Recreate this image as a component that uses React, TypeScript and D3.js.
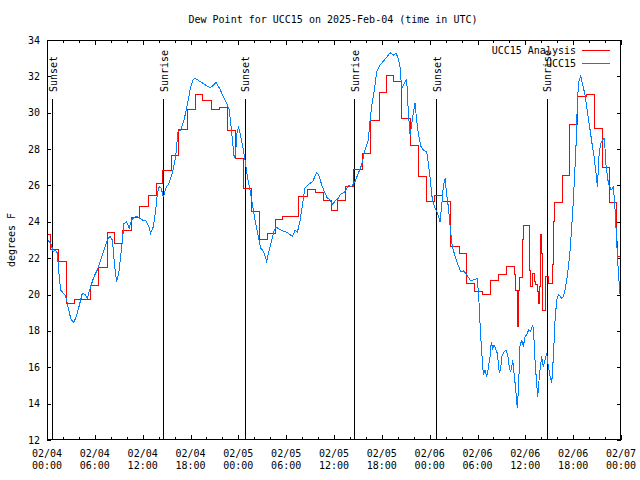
import React from 'react';
import * as d3 from 'd3';

// hours after 2025-02-04 00:00 UTC, dew point in degrees F
const analysis: [number, number][] = [
  [-0.45, 23.3], [0.5, 22.5], [1.45, 21.8], [2.5, 19.5], [3.5, 19.75], [5.45, 20.5],
  [6.5, 21.5], [7.6, 23.4], [8.5, 22.8], [9.5, 23.5], [10.6, 24.25], [11.6, 24.85],
  [12.7, 25.45], [13.7, 26.1], [14.5, 26.85], [15.6, 27.65], [16.45, 29.1], [17.6, 30.2],
  [18.6, 31.0], [19.55, 30.65], [20.6, 30.2], [21.7, 30.3], [22.6, 29.05], [23.6, 27.5],
  [24.6, 25.85], [25.7, 24.57], [26.7, 23.05], [27.65, 23.37], [28.65, 24.14], [29.6, 24.3],
  [31.55, 25.42], [32.65, 25.8], [33.65, 25.63], [34.7, 25.2], [35.7, 24.6], [36.5, 25.2],
  [37.5, 25.93], [38.5, 26.9], [39.6, 27.77], [40.6, 29.6], [41.65, 31.12], [42.6, 32.07],
  [43.5, 31.7], [44.5, 29.7], [45.6, 28.2], [46.6, 26.5], [47.6, 25.1], [48.6, 25.47],
  [49.55, 25.1], [50.6, 22.65], [51.7, 22.27], [52.6, 20.6], [53.6, 20.17], [54.6, 20.0],
  [55.65, 20.8], [56.65, 21.13], [57.6, 21.55], [58.6, 21.08], [58.8, 20.25], [59.0, 18.23],
  [59.1, 20.25], [59.3, 20.95], [59.7, 23.04], [59.75, 23.79], [60.55, 21.35], [60.7, 20.43],
  [60.9, 21.17], [61.1, 20.71], [61.3, 20.53], [61.5, 20.16], [61.6, 19.52], [61.75, 20.43],
  [61.95, 23.28], [62.05, 22.27], [62.1, 19.15], [62.55, 20.98], [62.9, 20.62], [63.4, 21.63],
  [63.55, 24.0], [63.7, 25.07], [64.7, 26.54], [65.6, 29.36], [66.55, 30.9], [67.7, 31.0],
  [68.7, 29.15], [69.7, 27.0], [70.6, 25.07], [71.45, 22.9], [71.55, 22.08], [72.0, 22.08],
];

const station: [number, number][] = [
  [0, 23.05], [0.46, 22.82], [0.79, 22.36], [1.09, 22.45], [1.3, 22.27], [1.5, 21.17],
  [1.71, 20.25], [2.05, 20.07], [2.34, 19.92], [2.63, 19.33], [2.97, 18.69], [3.3, 18.45],
  [3.6, 18.69], [4.01, 19.33], [4.43, 20.07], [4.85, 19.97], [5.06, 19.8], [5.48, 20.44],
  [5.9, 20.99], [6.31, 21.35], [6.73, 21.9], [7.15, 22.45], [7.57, 23.0], [7.9, 23.22],
  [8.2, 23.0], [8.49, 21.54], [8.74, 20.71], [9.03, 21.26], [9.33, 22.45], [9.66, 23.91],
  [10.0, 24.0], [10.3, 23.64], [10.6, 24.1], [10.91, 24.25], [11.33, 24.29], [11.96, 24.1],
  [12.38, 24.1], [12.8, 23.73], [13.0, 23.37], [13.34, 23.73], [13.63, 24.65], [13.84, 25.56],
  [14.05, 25.93], [14.34, 25.84], [14.59, 25.35], [14.88, 25.84], [15.3, 26.11], [15.72, 26.66],
  [16.14, 27.58], [16.43, 28.95], [16.77, 29.04], [17.19, 29.6], [17.6, 30.42], [18.02, 31.43],
  [18.3, 31.8], [18.57, 31.89], [19.19, 31.72], [19.82, 31.54], [20.45, 31.37], [20.86, 31.5],
  [21.2, 31.66], [21.7, 31.3], [22.11, 30.88], [22.33, 30.7], [22.6, 30.45], [22.87, 30.15],
  [23.04, 29.42], [23.29, 28.4], [23.48, 27.5], [23.67, 27.77], [23.79, 28.8], [24.02, 29.24],
  [24.29, 28.7], [24.54, 28.15], [24.84, 27.42], [25.13, 26.5], [25.46, 25.77], [25.8, 24.85],
  [26.09, 24.12], [26.51, 23.2], [26.8, 22.56], [27.14, 22.38], [27.55, 21.83], [27.89, 22.47],
  [28.19, 23.02], [28.48, 23.48], [28.73, 23.71], [29.23, 23.57], [29.65, 23.48], [30.07, 23.42],
  [30.48, 23.3], [30.78, 23.2], [31.11, 23.53], [31.4, 23.42], [31.74, 24.03], [32.07, 25.03],
  [32.36, 25.86], [32.78, 26.04], [33.32, 26.22], [33.62, 26.5], [33.83, 26.72], [34.16, 26.5],
  [34.45, 26.04], [34.87, 25.58], [35.17, 25.3], [35.5, 25.21], [35.84, 24.94], [36.13, 25.15],
  [36.55, 25.3], [36.75, 25.48], [37.38, 25.66], [37.8, 25.99], [38.2, 25.93], [38.63, 26.21],
  [39.05, 26.67], [39.47, 27.13], [39.89, 27.95], [40.3, 28.5], [40.51, 29.51], [40.72, 30.33],
  [41.06, 31.25], [41.35, 32.26], [41.77, 32.62], [42.4, 32.94], [42.81, 33.17], [43.02, 33.3],
  [43.44, 33.17], [43.78, 33.27], [44.07, 32.99], [44.28, 32.53], [44.49, 31.34], [44.7, 31.53],
  [44.91, 31.71], [45.12, 31.8], [45.33, 29.97], [45.54, 28.78], [45.74, 29.33], [45.95, 29.97],
  [46.16, 30.52], [46.37, 29.6], [46.58, 28.87], [46.91, 28.14], [47.2, 27.95], [47.63, 27.86],
  [47.83, 27.22], [48.04, 26.49], [48.34, 25.2], [48.67, 24.75], [49.0, 24.47], [49.3, 24.01],
  [49.5, 24.84], [49.71, 25.93], [49.93, 26.39], [50.13, 25.5], [50.35, 24.8], [50.56, 23.8],
  [50.77, 22.82], [50.97, 22.45], [51.2, 22.08], [51.5, 21.7], [51.89, 21.26], [52.23, 21.3],
  [52.65, 21.1], [53.06, 20.8], [53.48, 20.8], [53.98, 20.89], [54.2, 19.5], [54.4, 17.69],
  [54.57, 16.59], [54.74, 15.58], [54.94, 15.86], [55.15, 15.49], [55.36, 15.95], [55.57, 16.59],
  [55.74, 17.41], [55.91, 17.05], [56.07, 17.23], [56.32, 16.96], [56.49, 16.77], [56.74, 15.67],
  [56.91, 15.95], [57.04, 16.59], [57.33, 16.86], [57.58, 16.96], [57.79, 16.68], [58.0, 15.95],
  [58.17, 15.76], [58.42, 16.37], [58.63, 15.49], [58.8, 14.75], [58.92, 14.11], [59.0, 13.74],
  [59.17, 15.12], [59.33, 17.14], [59.54, 17.5], [59.75, 17.14], [59.96, 17.69], [60.17, 17.78],
  [60.42, 18.06], [60.67, 17.97], [60.92, 18.33], [61.04, 17.97], [61.21, 16.41], [61.42, 15.12],
  [61.55, 14.39], [61.72, 15.3], [61.84, 15.86], [62.05, 16.59], [62.26, 16.04], [62.47, 16.41],
  [62.68, 16.77], [62.89, 16.04], [63.1, 15.49], [63.31, 15.12], [63.52, 16.59], [63.73, 18.61],
  [63.94, 19.71], [64.15, 19.99], [64.36, 19.9], [64.57, 19.8], [64.78, 19.9], [64.99, 20.3],
  [65.2, 20.81], [65.41, 21.54], [65.62, 22.45], [65.83, 23.8], [66.04, 25.3], [66.25, 27.2],
  [66.4, 28.6], [66.52, 30.52], [66.69, 31.71], [66.95, 32.02], [67.2, 31.53], [67.49, 30.98],
  [67.78, 30.06], [68.03, 29.33], [68.33, 28.41], [68.62, 27.59], [68.87, 26.67], [69.04, 25.93],
  [69.25, 27.68], [69.46, 28.32], [69.67, 28.5], [69.92, 28.59], [70.13, 27.04], [70.42, 26.12],
  [70.76, 25.75], [71.05, 25.93], [71.26, 24.65], [71.47, 22.82], [71.68, 21.17], [71.89, 19.98],
];

const sunLabels = ['Sunset', 'Sunrise', 'Sunset', 'Sunrise', 'Sunset', 'Sunrise'];
const sunHours = [0.66, 14.6, 24.78, 38.55, 48.8, 62.68];

const yTickValues = [12, 14, 16, 18, 20, 22, 24, 26, 28, 30, 32, 34];
const seriesNames = ['UCC15 Analysis', 'UCC15'];
const seriesColors = ['#ff0000', '#0080ff'];

const T0 = Date.UTC(2025, 1, 4);
const toDate = (h: number) => new Date(T0 + h * 3600 * 1000);

const W = 640;
const H = 480;
const M = { left: 47, right: 621, top: 40, bottom: 440 };
const FONT = '"DejaVu Sans Mono", monospace';

const App: React.FC = () => {
  const x = d3.scaleUtc().domain([toDate(0), toDate(72)]).range([M.left, M.right]);
  const y = d3.scaleLinear().domain([12, 34]).range([M.bottom, M.top]);
  const px = (v: number) => Math.round(v) + 0.5;

  const redPath = d3.line<[number, number]>()
    .x(d => x(toDate(d[0])))
    .y(d => y(d[1]))
    .curve(d3.curveStepAfter)(analysis) || '';
  const bluePath = d3.line<[number, number]>()
    .x(d => x(toDate(d[0])))
    .y(d => y(d[1]))(station) || '';

  const majorTicks = d3.utcHour.every(6)!.range(toDate(0), toDate(72.01));
  const minorTicks = d3.utcHour.every(2)!.range(toDate(0), toDate(72.01));
  const fmtDay = d3.utcFormat('%m/%d');
  const fmtTime = d3.utcFormat('%H:%M');

  return (
    <svg width={W} height={H} style={{ position: 'absolute', left: 0, top: 0, background: '#fff' }}
      fontFamily={FONT} fontSize={10}>
      <defs>
        <clipPath id="plotClip">
          <rect x={M.left} y={M.top} width={M.right - M.left} height={M.bottom - M.top} />
        </clipPath>
      </defs>
      <rect x={0} y={0} width={W} height={H} fill="#fff" />

      <text x={333} y={23} textAnchor="middle">Dew Point for UCC15 on 2025-Feb-04 (time in UTC)</text>

      {/* y ticks, mirrored on the right */}
      {yTickValues.map(v => (
        <g key={`y${v}`} shapeRendering="crispEdges">
          <line x1={M.left} x2={M.left + 4} y1={px(y(v))} y2={px(y(v))} stroke="#000" />
          <line x1={M.right - 4} x2={M.right} y1={px(y(v))} y2={px(y(v))} stroke="#000" />
          <text x={40} y={y(v) + 3.5} textAnchor="end">{v}</text>
        </g>
      ))}

      {/* x ticks */}
      {minorTicks.map((d, i) => (
        <g key={`m${i}`} shapeRendering="crispEdges">
          <line x1={px(x(d))} x2={px(x(d))} y1={M.bottom} y2={M.bottom - 3} stroke="#000" />
          <line x1={px(x(d))} x2={px(x(d))} y1={M.top} y2={M.top + 3} stroke="#000" />
        </g>
      ))}
      {majorTicks.map((d, i) => (
        <g key={`M${i}`}>
          <line x1={px(x(d))} x2={px(x(d))} y1={M.bottom} y2={M.bottom - 5} stroke="#000" shapeRendering="crispEdges" />
          <line x1={px(x(d))} x2={px(x(d))} y1={M.top} y2={M.top + 5} stroke="#000" shapeRendering="crispEdges" />
          <text x={x(d)} y={457} textAnchor="middle">{fmtDay(d)}</text>
          <text x={x(d)} y={469} textAnchor="middle">{fmtTime(d)}</text>
        </g>
      ))}

      <text transform="translate(15,240) rotate(-90)" textAnchor="middle">degrees F</text>

      {/* sunrise / sunset markers */}
      {sunHours.map((h, i) => {
        const sx = x(toDate(h));
        return (
          <g key={`s${i}`}>
            <line x1={px(sx)} x2={px(sx)} y1={99} y2={M.bottom} stroke="#000" shapeRendering="crispEdges" />
            <text transform={`translate(${sx + 4.5},92) rotate(-90)`} textAnchor="start">{sunLabels[i]}</text>
          </g>
        );
      })}

      <g clipPath="url(#plotClip)" fill="none" strokeWidth={1} shapeRendering="crispEdges">
        <path d={redPath} stroke={seriesColors[0]} />
        <path d={bluePath} stroke={seriesColors[1]} />
      </g>

      {/* legend */}
      {seriesNames.map((name, i) => (
        <g key={name}>
          <text x={576} y={54 + i * 12.5} textAnchor="end">{name}</text>
          <line x1={582} x2={610} y1={50.5 + i * 12.5} y2={50.5 + i * 12.5} stroke={seriesColors[i]} shapeRendering="crispEdges" />
        </g>
      ))}

      <rect x={M.left + 0.5} y={M.top + 0.5} width={M.right - M.left - 1} height={M.bottom - M.top - 1}
        fill="none" stroke="#000" shapeRendering="crispEdges" />
    </svg>
  );
};

export default App;
